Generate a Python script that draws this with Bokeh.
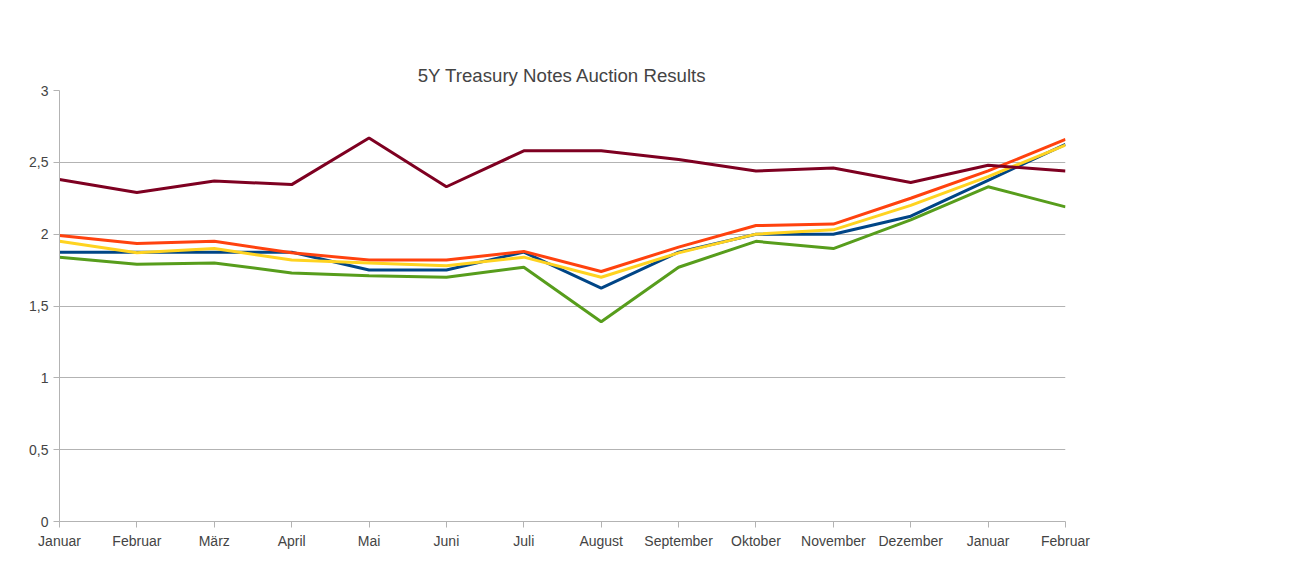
from bokeh.plotting import figure
from bokeh.models import Range1d, Legend, FixedTicker
from bokeh.embed import file_html
from bokeh.resources import INLINE

months = ["Januar","Februar","März","April","Mai","Juni","Juli","August","September","Oktober","November","Dezember","Januar","Februar"]
coupon = [1.875,1.875,1.875,1.875,1.75,1.75,1.875,1.625,1.875,2.0,2.0,2.125,2.375,2.625]
high = [1.99,1.935,1.95,1.87,1.82,1.82,1.88,1.74,1.91,2.06,2.07,2.25,2.44,2.66]
median = [1.95,1.87,1.9,1.82,1.8,1.78,1.84,1.70,1.87,2.0,2.03,2.2,2.4,2.62]
low = [1.84,1.79,1.80,1.73,1.71,1.70,1.77,1.39,1.77,1.95,1.90,2.10,2.33,2.19]
btc = [2.38,2.29,2.37,2.345,2.67,2.33,2.58,2.58,2.52,2.44,2.46,2.36,2.48,2.44]

x = list(range(len(months)))
p = figure(frame_width=1006, frame_height=431, output_backend="svg", toolbar_location=None,
           x_range=Range1d(0, len(months)-1), y_range=Range1d(0, 3),
           title="5Y Treasury Notes Auction Results")
p.title.align = "center"
p.title.text_font = "Liberation Sans"
p.title.text_font_size = "14pt"
p.title.text_font_style = "normal"
p.title.offset = 0
p.min_border_top = 90
p.min_border_left = 59
p.min_border_bottom = 40
p.min_border_right = 10
p.outline_line_color = None

series = [("Coupon", coupon, "#004586"), ("High Yield", high, "#ff420e"),
          ("Median Yield", median, "#ffd320"), ("Low Yield", low, "#579d1c"),
          ("Bid to Cover", btc, "#7e0021")]
items = []
for name, ys, c in series:
    r = p.line(x, ys, line_color=c, line_width=3)
    items.append((name, [r]))
leg = Legend(items=items, location="center", border_line_color=None,
             label_text_font="Liberation Sans", label_text_font_size="10.5pt",
             glyph_width=30, glyph_height=14, spacing=0, margin=70, padding=0,
             label_height=14)
p.add_layout(leg, "right")

p.xaxis.ticker = FixedTicker(ticks=x)
p.xaxis.major_label_overrides = {i: m for i, m in enumerate(months)}
p.yaxis.ticker = FixedTicker(ticks=[0,0.5,1,1.5,2,2.5,3])
p.yaxis.major_label_overrides = {0:"0",0.5:"0,5",1:"1",1.5:"1,5",2:"2",2.5:"2,5",3:"3"}
for ax in (p.xaxis, p.yaxis):
    ax.major_label_text_font = "Liberation Sans"
    ax.major_label_text_font_size = "10.5pt"
    ax.axis_line_color = "#b3b3b3"
    ax.major_tick_line_color = "#b3b3b3"
    ax.minor_tick_line_color = None
    ax.major_tick_out = 6
    ax.major_tick_in = 0
p.xgrid.grid_line_color = None
p.ygrid.grid_line_color = "#b3b3b3"
p.ygrid.ticker = FixedTicker(ticks=[0.5,1,1.5,2,2.5,3])

open("out.html", "w").write(file_html(p, INLINE))
